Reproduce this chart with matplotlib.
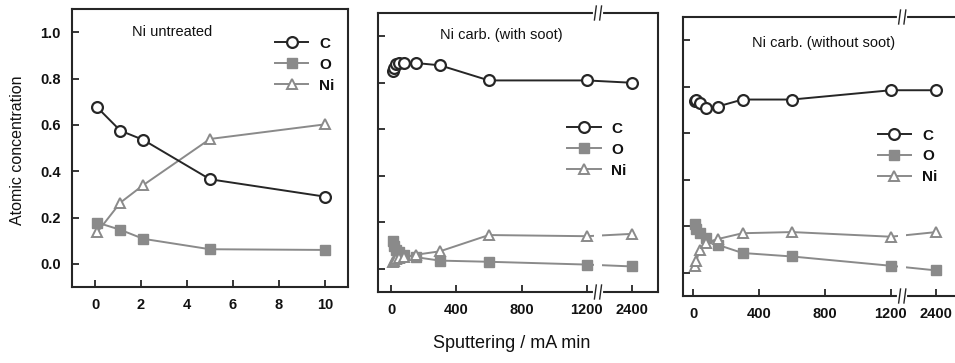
import numpy as np
import matplotlib
matplotlib.use("Agg")
import matplotlib.pyplot as plt

plt.rcParams['font.family'] = ['Liberation Sans', 'DejaVu Sans']

# --- data ---
# Ni untreated (sputtering 0..10 mA min)
t_untr = [0.1, 1.1, 2.1, 5.0, 10.0]
c_untr = [0.675, 0.575, 0.535, 0.365, 0.29]
o_untr = [0.178, 0.147, 0.108, 0.063, 0.06]
ni_untr = [0.137, 0.264, 0.34, 0.539, 0.602]

# Ni carb. (with soot)
t_soot = [10, 20, 30, 50, 80, 150, 300, 600, 1200, 2400]
c_soot = [0.85, 0.865, 0.88, 0.885, 0.885, 0.885, 0.875, 0.81, 0.81, 0.80]
o_soot = [0.12, 0.10, 0.08, 0.07, 0.06, 0.05, 0.035, 0.03, 0.018, 0.01]
ni_soot = [0.03, 0.035, 0.04, 0.045, 0.05, 0.06, 0.075, 0.145, 0.14, 0.15]

# Ni carb. (without soot)
t_nosoot = [10, 20, 40, 80, 150, 300, 600, 1200, 2400]
c_nosoot = [0.74, 0.745, 0.73, 0.71, 0.715, 0.745, 0.745, 0.785, 0.785]
o_nosoot = [0.21, 0.19, 0.17, 0.15, 0.12, 0.085, 0.07, 0.03, 0.01]
ni_nosoot = [0.03, 0.05, 0.10, 0.13, 0.145, 0.17, 0.175, 0.155, 0.175]

titles = ["Ni untreated", "Ni carb. (with soot)", "Ni carb. (without soot)"]
xticks_long = [0, 400, 800, 1200, 2400]

DARK = '#262626'
GRAY = '#8a8a8a'
TXT = '#111111'

# broken x axis: everything past 1200 is squeezed
K = 0.23
def fwd(x):
    x = np.asarray(x, dtype=float)
    return np.where(x <= 1200, x, 1200 + (x - 1200) * K)
def inv(y):
    y = np.asarray(y, dtype=float)
    return np.where(y <= 1200, y, 1200 + (y - 1200) / K)

W, H = 955, 363
fig = plt.figure(figsize=(W / 100, H / 100), dpi=100)

def add_ax(l, r, t, b):
    return fig.add_axes([l / W, 1 - b / H, (r - l) / W, (b - t) / H])

ax1 = add_ax(72, 348, 9, 287)
ax2 = add_ax(378, 658, 13, 292)
ax3 = add_ax(683, 961, 17, 296)

def draw(ax, t, c, o, ni):
    ax.plot(t, c, '-o', color=DARK, lw=1.4, ms=7.8, mfc='white', mec=DARK, mew=1.6, label='C', zorder=4)
    ax.plot(t, o, '-s', color=GRAY, lw=1.4, ms=7, mfc=GRAY, mec=GRAY, label='O', zorder=3)
    ax.plot(t, ni, '-^', color=GRAY, lw=1.4, ms=7.5, mfc='white', mec=GRAY, mew=1.4, label='Ni', zorder=3)

draw(ax1, t_untr, c_untr, o_untr, ni_untr)
draw(ax2, t_soot, c_soot, o_soot, ni_soot)
draw(ax3, t_nosoot, c_nosoot, o_nosoot, ni_nosoot)

for ax in (ax1, ax2, ax3):
    ax.set_ylim(-0.1, 1.1)
    ax.set_yticks([0.0, 0.2, 0.4, 0.6, 0.8, 1.0])
    ax.tick_params(direction='in', length=5, width=1.3, colors=DARK, labelcolor=TXT,
                   labelsize=10.5, pad=8)
    for s in ax.spines.values():
        s.set_color(DARK)
        s.set_linewidth(1.5)

ax1.set_xlim(-1, 11)
ax1.set_xticks([0, 2, 4, 6, 8, 10])
ax1.set_xticklabels(['0', '2', '4', '6', '8', '10'], fontweight='bold')
ax1.set_yticklabels(['0.0', '0.2', '0.4', '0.6', '0.8', '1.0'], fontweight='bold')

for ax, lo, hi in ((ax2, -80, 3100), (ax3, -61, 3050)):
    ax.set_xscale('function', functions=(fwd, inv))
    ax.set_xlim(lo, hi)
    ax.set_xticks(xticks_long)
    ax.set_xticklabels([str(v) for v in xticks_long], fontweight='bold')
    ax.set_yticklabels([])
    # gap in the data lines at the break
    ax.axvspan(1400, 1600, color='white', zorder=3.5, lw=0)
    # break marks on top and bottom spines
    bt = ax.get_xaxis_transform()
    for yy in (0, 1):
        ax.plot([1420, 1580], [yy, yy], transform=bt, color='white', lw=3,
                clip_on=False, zorder=5)
        for xb in (1430, 1570):
            ax.plot([xb - 25, xb + 25], [yy - 0.025, yy + 0.025], transform=bt,
                    color=DARK, lw=1.0, clip_on=False, zorder=6)

ax1.text(0.217, 0.917, titles[0], transform=ax1.transAxes, fontsize=10.5, color=TXT, va='center')
ax2.text(0.221, 0.921, titles[1], transform=ax2.transAxes, fontsize=10.5, color=TXT, va='center')
ax3.text(0.249, 0.907, titles[2], transform=ax3.transAxes, fontsize=10.5, color=TXT, va='center')

leg_kw = dict(frameon=False, loc='upper left', handlelength=2.2, handletextpad=0.7,
              labelspacing=0.45, borderpad=0, borderaxespad=0,
              prop={'size': 11, 'weight': 'bold'})
for ax, (x, y) in ((ax1, (0.735, 0.90)), (ax2, (0.675, 0.61)), (ax3, (0.70, 0.60))):
    leg = ax.legend(bbox_to_anchor=(x, y), **leg_kw)
    for t in leg.get_texts():
        t.set_color(TXT)

fig.text(18 / W, 1 - 150 / H, "Atomic concentration", rotation=90, ha='center', va='center',
         fontsize=11.5, color=TXT)
fig.text(512 / W, 1 - 343 / H, "Sputtering / mA min", ha='center', va='center',
         fontsize=13, color=TXT)

fig.savefig('out.png', dpi=100)
